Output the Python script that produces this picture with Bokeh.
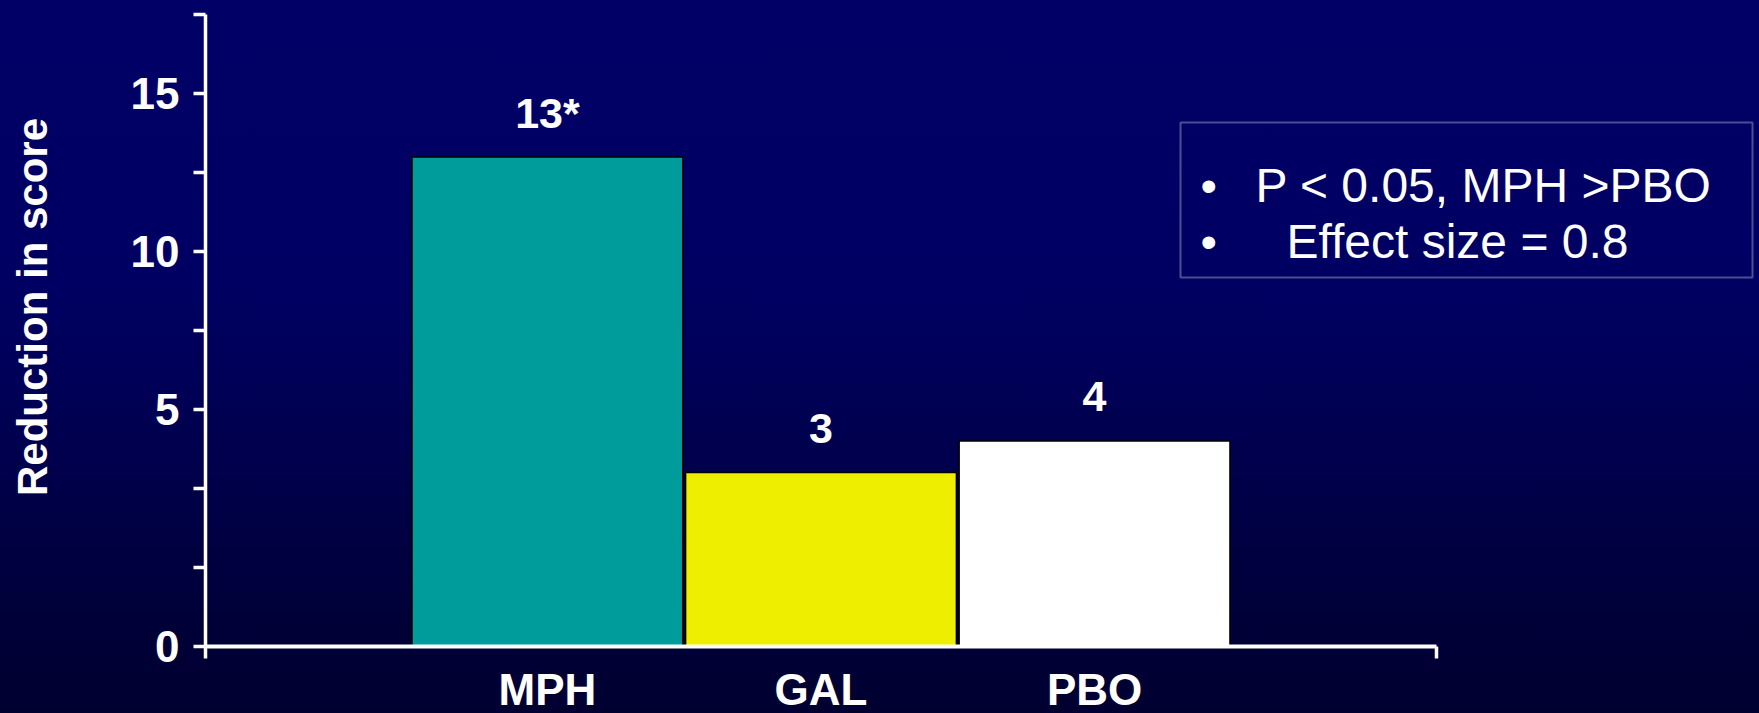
import math

from bokeh.plotting import figure
from bokeh.models import (ColumnDataSource, Range1d, LinearAxis, FixedTicker,
                          Label, BoxAnnotation)
from bokeh.core.properties import value
from bokeh.embed import file_html
from bokeh.resources import INLINE

# Treatment groups and their mean reduction in score
categories = ["MPH", "GAL", "PBO"]
reductions = [13, 3, 4]
significance = ["*", "", ""]
bar_colors = ["#009B9B", "#EEEE00", "#FFFFFF"]

# Value axis: labelled ticks, unlabelled ticks in between
y_major = [-2.5, 5, 10, 15]
y_major_labels = ["0", "5", "10", "15"]
y_minor = [0, 2.5, 7.5, 12.5, 17.5]

notes = ["P < 0.05, MPH >PBO", "Effect size = 0.8"]

FONT = "Liberation Sans"
W, H = 1759, 713
PAD = 0.75  # empty space either side of the bar group, in category widths

# Where the axes sit on the page (pixels from the top-left corner)
AX_LEFT, AX_RIGHT = 205, 1436
AX_TOP, AX_BOTTOM = 14.4, 645.5

n = len(categories)
positions = [i + 0.5 for i in range(n)]
y_floor, y_top = y_major[0], y_minor[-1]

# Data ranges chosen so the axes land at the pixel positions above
ux = (AX_RIGHT - AX_LEFT) / (n + 2 * PAD)
x0 = -PAD - AX_LEFT / ux
uy = (AX_BOTTOM - AX_TOP) / (y_top - y_floor)
y0 = y_floor - (H - AX_BOTTOM) / uy

source = ColumnDataSource(dict(
    pos=positions,
    val=reductions,
    color=bar_colors,
    label=[f"{v}{s}" for v, s in zip(reductions, significance)],
))

p = figure(
    width=W, height=H,
    x_range=Range1d(x0, x0 + W / ux),
    y_range=Range1d(y0, y0 + H / uy),
    x_axis_location=None,
    output_backend="svg", toolbar_location=None,
    min_border=0,
)
p.background_fill_color = None
p.border_fill_color = None
p.outline_line_color = None
p.grid.visible = False
p.styles = {"background": "linear-gradient(to bottom, #000066 0%, #000063 40%, #00003a 85%, #000030 100%)"}

# Bars
p.vbar(x="pos", top="val", bottom=y_floor, width=0.99, source=source,
       fill_color="color", line_color="black", line_width=1.5)

# Value labels above the bars
p.text(x="pos", y="val", text="label", source=source,
       text_align="center", text_baseline="alphabetic", y_offset=-44,
       text_color="white", text_font=value(FONT), text_font_style="bold",
       text_font_size="43px")

# Value axis
yax = p.yaxis[0]
yax.fixed_location = -PAD
yax.bounds = (y_floor, y_top)
yax.ticker = FixedTicker(ticks=y_major, minor_ticks=y_minor)
yax.major_label_overrides = {float(t): lab for t, lab in zip(y_major, y_major_labels)}
yax.major_tick_in = 0
yax.major_tick_out = 12
yax.minor_tick_in = 0
yax.minor_tick_out = 12
yax.axis_line_color = "white"
yax.axis_line_width = 3.5
yax.major_tick_line_color = "white"
yax.major_tick_line_width = 3.5
yax.minor_tick_line_color = "white"
yax.minor_tick_line_width = 3.5
yax.major_label_standoff = 14
yax.major_label_text_color = "white"
yax.major_label_text_font = FONT
yax.major_label_text_font_style = "bold"
yax.major_label_text_font_size = "44px"

# Baseline with a tick at each end
edge = LinearAxis(fixed_location=y_floor, bounds=(-PAD, n + PAD),
                  ticker=FixedTicker(ticks=[], minor_ticks=[-PAD, n + PAD]),
                  major_tick_line_color=None,
                  minor_tick_out=12, minor_tick_in=0,
                  minor_tick_line_color="white", minor_tick_line_width=3.5,
                  axis_line_color="white", axis_line_width=4)
p.add_layout(edge, "below")

# Category names under the bars
cax = LinearAxis(fixed_location=y_floor,
                 ticker=FixedTicker(ticks=positions),
                 major_label_overrides={float(x): c for x, c in zip(positions, categories)},
                 axis_line_color=None, major_tick_line_color=None,
                 minor_tick_line_color=None, major_tick_out=0, major_tick_in=0,
                 major_label_standoff=19, major_label_text_color="white",
                 major_label_text_font=FONT, major_label_text_font_style="bold",
                 major_label_text_font_size="44px")
p.add_layout(cax, "below")

# Value axis title
p.add_layout(Label(x=32, y=H - 306.5, x_units="screen", y_units="screen",
                   text="Reduction in score", angle=math.pi / 2,
                   text_align="center", text_baseline="alphabetic",
                   text_color="white", text_font=FONT, text_font_style="bold",
                   text_font_size="42px"))

# Notes box
p.add_layout(BoxAnnotation(left=1180, right=1752, top=H - 122, bottom=H - 277,
                           left_units="screen", right_units="screen",
                           top_units="screen", bottom_units="screen",
                           fill_alpha=0, line_color="white", line_width=2))
for i, note in enumerate(notes):
    y = H - 185 - 56 * i
    p.add_layout(Label(x=1200, y=y, x_units="screen", y_units="screen", text="\u2022",
                       text_color="white", text_font=FONT, text_font_size="47px",
                       text_baseline="alphabetic"))
    p.add_layout(Label(x=1255 + 31 * i, y=y, x_units="screen", y_units="screen", text=note,
                       text_color="white", text_font=FONT, text_font_size="48px",
                       text_baseline="alphabetic"))

html = file_html(p, INLINE)
html = html.replace("<head>", "<head><style>html,body{margin:0;padding:0;background:#000030;}</style>", 1)
open("out.html", "w").write(html)
